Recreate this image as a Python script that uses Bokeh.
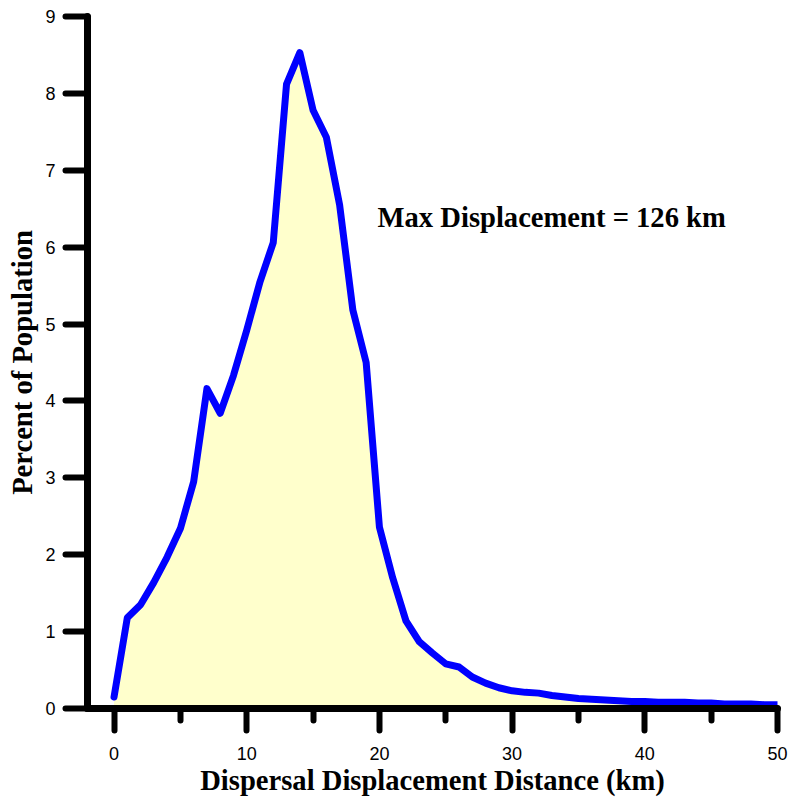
from bokeh.plotting import figure
from bokeh.models import Range1d, FixedTicker, Label, ColumnDataSource
from bokeh.embed import file_html
from bokeh.resources import INLINE

# ---- data ----
distance_km = list(range(0, 51))
percent_population = [
    0.15, 1.18, 1.35, 1.64, 1.97, 2.34, 2.95, 4.16, 3.84, 4.33,
    4.92, 5.55, 6.06, 8.12, 8.53, 7.78, 7.43, 6.55, 5.18, 4.50,
    2.36, 1.70, 1.14, 0.87, 0.72, 0.58, 0.54, 0.41, 0.33, 0.27,
    0.23, 0.21, 0.20, 0.17, 0.15, 0.13, 0.12, 0.11, 0.10, 0.09,
    0.09, 0.08, 0.08, 0.08, 0.07, 0.07, 0.06, 0.06, 0.06, 0.05,
    0.05,
]
x_major_ticks = [0, 10, 20, 30, 40, 50]
x_minor_ticks = [5, 15, 25, 35, 45]
y_major_ticks = [0, 1, 2, 3, 4, 5, 6, 7, 8, 9]
annotation_text = "Max Displacement = 126 km"
annotation_x = 19.86
annotation_y = 6.39

source = ColumnDataSource(data=dict(x=distance_km, y=percent_population,
                                    base=[0] * len(distance_km)))

p = figure(width=788, height=798, output_backend="svg", toolbar_location=None,
           x_range=Range1d(-2, 50), y_range=Range1d(0, 9),
           min_border_left=87, min_border_right=11,
           min_border_top=16, min_border_bottom=90)
p.outline_line_color = None
p.grid.visible = False
p.background_fill_color = "white"
p.border_fill_color = "white"

p.varea(x="x", y1="base", y2="y", source=source, fill_color="#FFFFCC")
p.line(x="x", y="y", source=source, line_color="#0000FF", line_width=7,
       line_join="round", line_cap="round")

for ax in (p.xaxis[0], p.yaxis[0]):
    ax.axis_line_color = "black"
    ax.axis_line_width = 7
    ax.axis_line_cap = "round"
    ax.major_tick_line_color = "black"
    ax.major_tick_line_width = 6
    ax.major_tick_line_cap = "round"
    ax.major_tick_in = 0
    ax.major_tick_out = 22
    ax.minor_tick_line_color = "black"
    ax.minor_tick_line_width = 6
    ax.minor_tick_line_cap = "round"
    ax.minor_tick_in = 0
    ax.major_label_text_font = "Liberation Sans"
    ax.major_label_text_font_size = "18px"
    ax.major_label_text_color = "black"
    ax.axis_label_text_font = "Liberation Serif"
    ax.axis_label_text_font_style = "bold"
    ax.axis_label_text_font_size = "28.6px"
    ax.axis_label_text_color = "black"

p.xaxis.ticker = FixedTicker(ticks=x_major_ticks, minor_ticks=x_minor_ticks)
p.xaxis.minor_tick_out = 12
p.xaxis.major_label_standoff = 16
p.xaxis.axis_label_standoff = 2
p.xaxis.axis_label = "Dispersal Displacement Distance (km)"

p.yaxis.ticker = FixedTicker(ticks=y_major_ticks, minor_ticks=[])
p.yaxis.minor_tick_out = 0
p.yaxis.major_label_standoff = 10
p.yaxis.axis_label_standoff = 4
p.yaxis.axis_label = "Percent of Population"

p.add_layout(Label(x=annotation_x, y=annotation_y, text=annotation_text,
                   text_font="Liberation Serif", text_font_style="bold",
                   text_font_size="28.6px", text_color="black",
                   text_baseline="alphabetic", text_align="left"))

open("out.html", "w").write(file_html(p, INLINE))
